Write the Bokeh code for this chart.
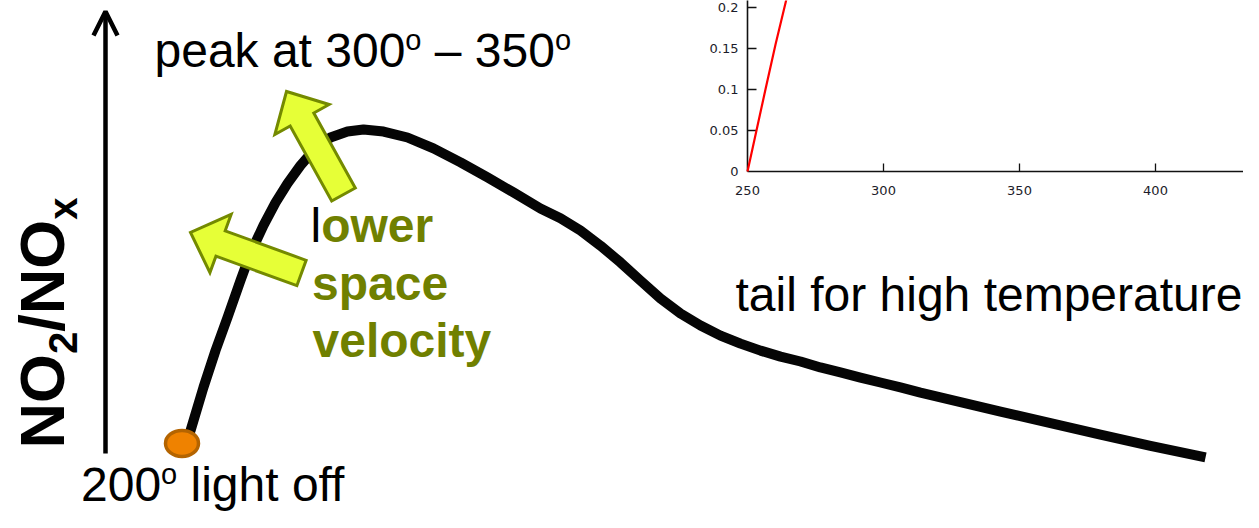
import math
from bokeh.plotting import figure
from bokeh.models import Range1d, Arrow, OpenHead
from bokeh.core.properties import value
from bokeh.embed import file_html
from bokeh.resources import INLINE

# ---------------- data ----------------
# schematic NO2/NOx light-off curve (temperature in deg C, ratio in arbitrary units)
temperature = [202.8, 205.9, 214.8, 223.1, 231.4, 240.3, 247.2, 256.2, 264.5, 272.8,
               281.7, 290.7, 302.4, 314.1, 325.2, 339.0, 355.5, 373.4, 392.1, 410.7,
               428.6, 447.2, 461.0, 474.8, 488.6, 502.4, 516.2, 530.0, 543.8, 557.6,
               571.4, 585.2, 599.0, 612.8, 626.6, 640.3, 654.1, 667.9, 681.7, 695.5,
               709.3, 736.9, 764.5, 799.0, 833.4, 867.9, 905.9]
no2_nox = [0.114, 0.143, 0.266, 0.371, 0.466, 0.571, 0.649, 0.729, 0.794, 0.849,
           0.900, 0.943, 0.980, 0.997, 1.003, 0.997, 0.980, 0.949, 0.909, 0.866,
           0.823, 0.777, 0.749, 0.714, 0.671, 0.623, 0.571, 0.520, 0.477, 0.443,
           0.414, 0.391, 0.371, 0.354, 0.340, 0.323, 0.309, 0.294, 0.280, 0.266,
           0.251, 0.224, 0.197, 0.164, 0.131, 0.099, 0.066]
light_off_temp = [200.0]
light_off_ratio = [0.106]

# inset (cropped measured chart)
inset_temp = [250.0, 253.3, 256.6, 260.3, 264.3]
inset_ratio = [0.0, 0.05, 0.10, 0.155, 0.21]
inset_xticks = [250, 300, 350, 400]
inset_xticklabels = ["250", "300", "350", "400"]
inset_yticks = [0.0, 0.05, 0.1, 0.15, 0.2]
inset_yticklabels = ["0", "0.05", "0.1", "0.15", "0.2"]

# ---------------- layout calibration ----------------
W, H = 1243, 512

# main schematic: pixel <-> data
X_PX0, X_VAL0, X_K = 181.5, 200.0, 1.45      # px per deg
Y_PX0, Y_K = 480.0, 350.0                     # ratio 0 at px row, px per unit


def tx(px):
    return X_VAL0 + (px - X_PX0) / X_K


def ty(py):
    return (Y_PX0 - py) / Y_K


def at(px, py):
    return tx(px), ty(py)


# inset calibration
IX_PX0, IX_VAL0, IX_K = 747.0, 250.0, 2.72
IY_PX0, IY_K = 171.0, 820.0

p = figure(width=W, height=H, output_backend="svg", toolbar_location=None,
           x_range=Range1d(tx(0), tx(W)), y_range=Range1d(ty(H), ty(0)),
           x_axis_type=None, y_axis_type=None, min_border=0,
           outline_line_color=None, background_fill_color="white",
           border_fill_color="white")
p.extra_x_ranges = {"ix": Range1d(IX_VAL0 + (0 - IX_PX0) / IX_K,
                                  IX_VAL0 + (W - IX_PX0) / IX_K)}
p.extra_y_ranges = {"iy": Range1d((IY_PX0 - H) / IY_K, (IY_PX0 - 0) / IY_K)}

# ---------------- inset chart ----------------
ixr = p.extra_x_ranges["ix"]
iyr = p.extra_y_ranges["iy"]
ax_col = "#111111"
p.segment(x0=[inset_xticks[0], inset_xticks[0]], y0=[inset_yticks[0], inset_yticks[0]],
          x1=[ixr.end + 5, inset_xticks[0]], y1=[inset_yticks[0], iyr.end + 0.05],
          line_color=ax_col, line_width=1.6, x_range_name="ix", y_range_name="iy")
tk_x = inset_xticks[1:]
p.segment(x0=tk_x, y0=[0] * len(tk_x), x1=tk_x, y1=[8 / IY_K] * len(tk_x),
          line_color=ax_col, line_width=1.3, x_range_name="ix", y_range_name="iy")
tk_y = inset_yticks[1:]
p.segment(x0=[inset_xticks[0]] * len(tk_y), y0=tk_y,
          x1=[inset_xticks[0] + 9 / IX_K] * len(tk_y), y1=tk_y,
          line_color=ax_col, line_width=1.3, x_range_name="ix", y_range_name="iy")
p.text(x=inset_xticks, y=[-14 / IY_K] * len(inset_xticks), text=inset_xticklabels,
       text_font=value("DejaVu Sans"), text_font_size="13px", text_color="#1c1c2a",
       text_align="center", text_baseline="top", x_range_name="ix", y_range_name="iy")
p.text(x=[inset_xticks[0] - 9 / IX_K] * len(inset_yticks), y=inset_yticks,
       text=inset_yticklabels, text_font=value("DejaVu Sans"), text_font_size="13px",
       text_color="#1c1c2a", text_align="right", text_baseline="middle",
       x_range_name="ix", y_range_name="iy")
p.line(inset_temp, inset_ratio, line_color="#ff0000", line_width=2.2,
       x_range_name="ix", y_range_name="iy")

# ---------------- vertical axis arrow ----------------
ax0 = at(105, 453)
ax1 = at(105, 11)
p.add_layout(Arrow(end=OpenHead(size=24, line_width=4.5, line_color="black"),
                   x_start=ax0[0], y_start=ax0[1], x_end=ax1[0], y_end=ax1[1],
                   line_width=4.5, line_color="black"))

# ---------------- main curve ----------------
p.line(temperature, no2_nox, line_color="#050505", line_width=10,
       line_join="round", line_cap="butt")
p.ellipse(x=light_off_temp, y=light_off_ratio, width=33, height=26,
          width_units="screen", height_units="screen",
          fill_color="#ef8200", line_color="#b46400", line_width=3.5)


# ---------------- block arrows ----------------
def block_arrow(tail, tip, shaft_w, head_w, head_len):
    (x0, y0), (x1, y1) = tail, tip
    dx, dy = x1 - x0, y1 - y0
    L = math.hypot(dx, dy)
    ux, uy = dx / L, dy / L
    nx, ny = -uy, ux
    bx, by = x1 - ux * head_len, y1 - uy * head_len
    pts = [
        (x0 + nx * shaft_w / 2, y0 + ny * shaft_w / 2),
        (bx + nx * shaft_w / 2, by + ny * shaft_w / 2),
        (bx + nx * head_w / 2, by + ny * head_w / 2),
        (x1, y1),
        (bx - nx * head_w / 2, by - ny * head_w / 2),
        (bx - nx * shaft_w / 2, by - ny * shaft_w / 2),
        (x0 - nx * shaft_w / 2, y0 - ny * shaft_w / 2),
    ]
    xs = [tx(a) for a, b in pts]
    ys = [ty(b) for a, b in pts]
    return xs, ys


ARROW_FILL, ARROW_LINE = "#e6ff37", "#748a00"
for tail, tip in [((343, 194), (286, 91)), ((301, 272.5), (190, 232))]:
    xs, ys = block_arrow(tail, tip, 27, 62, 32)
    p.patch(xs, ys, fill_color=ARROW_FILL, line_color=ARROW_LINE, line_width=3,
            line_join="miter")

# ---------------- texts ----------------
AR = {' ': .278, 'p': .556, 'e': .556, 'a': .556, 'k': .5, 't': .278, '3': .556,
      '0': .556, '5': .556, '2': .556, '–': .556, 'l': .222, 'i': .222, 'g': .556,
      'h': .556, 'o': .556, 'f': .278}
ARB = {'N': .722, 'O': .778, '/': .278, '2': .556, 'x': .556}


def tw(s, size, table):
    return sum(table[c] for c in s) * size


FONT = value("Liberation Sans")
MAIN = 48
SUP = 29
BASE_FIX = 0.36   # renderer places alphabetic baseline this many em below anchor


def put(px, py, s, size, color="black", style="normal", rotated=False):
    if rotated:
        x, y = at(px - BASE_FIX * size, py)
        ang = math.pi / 2
    else:
        x, y = at(px, py - BASE_FIX * size)
        ang = 0.0
    p.text(x=[x], y=[y], text=[s], text_font=FONT, text_font_size=f"{size}px",
           text_font_style=style, text_color=color, text_align="left",
           text_baseline="alphabetic", angle=ang)


def sup_line(px, py, parts):
    for s, is_sup in parts:
        size = SUP if is_sup else MAIN
        stripped = s.lstrip(" ")
        px += tw(s[:len(s) - len(stripped)], size, AR)
        put(px, py - 17 if is_sup else py, stripped, size)
        px += tw(stripped, size, AR)


sup_line(154, 67, [("peak at 300", False), ("o", True), (" – 350", False), ("o", True)])
sup_line(80.5, 501, [("200", False), ("o", True), (" light off", False)])
put(735, 311, "tail for high temperature", MAIN)

OLIVE = "#708000"
put(310, 242, "l", MAIN)
put(310 + tw("l", MAIN, AR), 242, "ower", MAIN, OLIVE, "bold")
put(311.5, 300, "space", MAIN, OLIVE, "bold")
put(312, 357, "velocity", MAIN, OLIVE, "bold")

# rotated NO2/NOx label
BIG, SUB = 63, 40
base_x, y = 64, 448
for s, size, shift in [("NO", BIG, 0), ("2", SUB, 13), ("/NO", BIG, 0), ("x", SUB, 13)]:
    put(base_x + shift, y, s, size, "black", "bold", rotated=True)
    y -= tw(s, size, ARB)

open("out.html", "w").write(file_html(p, INLINE))
